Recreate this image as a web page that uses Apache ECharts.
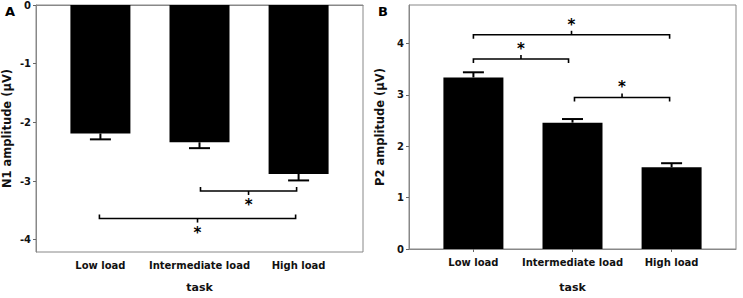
<!DOCTYPE html>
<html><head><meta charset="utf-8">
<script src="https://cdn.jsdelivr.net/npm/echarts@6/dist/echarts.min.js"></script>
<style>html,body{margin:0;padding:0;background:#fff}#c{width:743px;height:298px}</style>
</head><body><div id="c"></div>
<script>
const categories = ['Low load', 'Intermediate load', 'High load'];
const catPos = [1, 2, 3];
const n1Values = [-2.19, -2.34, -2.88];
const n1Errors = [0.10, 0.10, 0.11];
const p2Values = [3.34, 2.46, 1.59];
const p2Errors = [0.10, 0.07, 0.08];
const n1Ticks = [0, -1, -2, -3, -4];
const p2Ticks = [0, 1, 2, 3, 4];
// brackets: [xStart, xEnd, yLevel]
const n1Brackets = [[2.01, 2.98, -3.17], [0.99, 2.97, -3.64]];
const p2Brackets = [[1.0, 2.98, 4.17], [1.0, 1.96, 3.70], [2.02, 2.98, 2.95]];

const FONT = 'DejaVu Sans';
const chart = echarts.init(document.getElementById('c'), null, {renderer: 'svg'});

function xAxisDef(gi) {
  return {
    type: 'value', gridIndex: gi, min: 0.35, max: 3.65,
    name: 'task', nameLocation: 'middle', nameGap: gi === 0 ? 30 : 33,
    nameTextStyle: {fontFamily: FONT, fontWeight: 'bold', fontSize: 11, color: '#111'},
    axisLine: {show: true, lineStyle: {color: '#888', width: 1}},
    axisTick: {show: true, customValues: catPos, length: 3, lineStyle: {color: '#666'}},
    axisLabel: {customValues: catPos, formatter: v => categories[Math.round(v) - 1] || '',
      fontFamily: FONT, fontWeight: 'bold', fontSize: 10, color: '#111', margin: 8},
    splitLine: {show: false}
  };
}
function yAxisDef(gi, min, max, ticks, name) {
  return {
    type: 'value', gridIndex: gi, min: min, max: max,
    name: name, nameLocation: 'middle', nameGap: 23,
    nameTextStyle: {fontFamily: FONT, fontWeight: 'bold', fontSize: 11.5, color: '#111'},
    axisLine: {show: true, lineStyle: {color: '#888', width: 1}},
    axisTick: {show: true, customValues: ticks, length: 3, lineStyle: {color: '#666'}},
    axisLabel: {customValues: ticks, fontFamily: FONT, fontWeight: 'bold', fontSize: 10, color: '#111', margin: 5},
    splitLine: {show: false}
  };
}

function errorSeries(xi, values, errors) {
  return {
    type: 'custom', xAxisIndex: xi, yAxisIndex: xi, clip: false, z: 5,
    itemStyle: {color: '#000'},
    data: values.map((v, i) => [catPos[i], v, errors[i]]),
    encode: {x: 0, y: 1},
    renderItem: (params, api) => {
      const x = api.value(0), v = api.value(1), e = api.value(2);
      const s = v < 0 ? -1 : 1;
      const b = api.coord([x, v]);
      const t = api.coord([x, v + s * e]);
      const st = {stroke: '#000', lineWidth: 2};
      return {type: 'group', children: [
        {type: 'line', shape: {x1: b[0], y1: b[1], x2: t[0], y2: t[1]}, style: st},
        {type: 'line', shape: {x1: t[0] - 10.5, y1: t[1], x2: t[0] + 10.5, y2: t[1]}, style: st}
      ]};
    }
  };
}

function bracketSeries(xi, brackets, dir) {
  // dir = -1: hooks up, tick/star down ; dir = 1: hooks down, tick/star up
  return {
    type: 'custom', xAxisIndex: xi, yAxisIndex: xi, clip: false, z: 5,
    itemStyle: {color: '#000'},
    data: brackets,
    encode: {x: [0, 1], y: 2},
    renderItem: (params, api) => {
      const p1 = api.coord([api.value(0), api.value(2)]);
      const p2 = api.coord([api.value(1), api.value(2)]);
      const y = p1[1];
      const xm = (p1[0] + p2[0]) / 2;
      const hook = 4 * (dir === -1 ? -1 : 1);
      const tick = 4 * (dir === -1 ? 1 : -1);
      const st = {stroke: '#000', lineWidth: 1.6, fill: null};
      return {type: 'group', children: [
        {type: 'polyline', shape: {points: [[p1[0], y + hook], [p1[0], y], [p2[0], y], [p2[0], y + hook]]}, style: st},
        {type: 'line', shape: {x1: xm, y1: y, x2: xm, y2: y + tick}, style: st},
        {type: 'text', x: xm, y: dir === -1 ? y + 14 : y - 10,
          style: {text: '*', fontFamily: FONT, fontWeight: 'bold', fontSize: 15, fill: '#000', align: 'center', verticalAlign: 'middle'}}
      ]};
    }
  };
}

chart.setOption({
  animation: false,
  backgroundColor: '#fff',
  color: ['#000'],
  grid: [
    {left: 36, top: 5, right: 380, bottom: 44, show: true, borderColor: '#888', borderWidth: 1, backgroundColor: '#fff'},
    {left: 409, top: 5, right: 7, bottom: 40, show: true, borderColor: '#888', borderWidth: 1, backgroundColor: '#fff'}
  ],
  xAxis: [xAxisDef(0), xAxisDef(1)],
  yAxis: [
    yAxisDef(0, -4.21, 0, n1Ticks, 'N1 amplitude (μV)'),
    yAxisDef(1, 0, 4.75, p2Ticks, 'P2 amplitude (μV)')
  ],
  graphic: [
    {type: 'text', left: 5, top: 5, style: {text: 'A', fontFamily: FONT, fontWeight: 'bold', fontSize: 13, fill: '#000'}},
    {type: 'text', left: 378, top: 5, style: {text: 'B', fontFamily: FONT, fontWeight: 'bold', fontSize: 13, fill: '#000'}}
  ],
  series: [
    {type: 'bar', xAxisIndex: 0, yAxisIndex: 0, barWidth: 60, data: n1Values.map((v, i) => [catPos[i], v]),
      itemStyle: {color: '#000'}},
    {type: 'bar', xAxisIndex: 1, yAxisIndex: 1, barWidth: 60, data: p2Values.map((v, i) => [catPos[i], v]),
      itemStyle: {color: '#000'}},
    errorSeries(0, n1Values, n1Errors),
    errorSeries(1, p2Values, p2Errors),
    bracketSeries(0, n1Brackets, -1),
    bracketSeries(1, p2Brackets, 1)
  ]
});
</script></body></html>
